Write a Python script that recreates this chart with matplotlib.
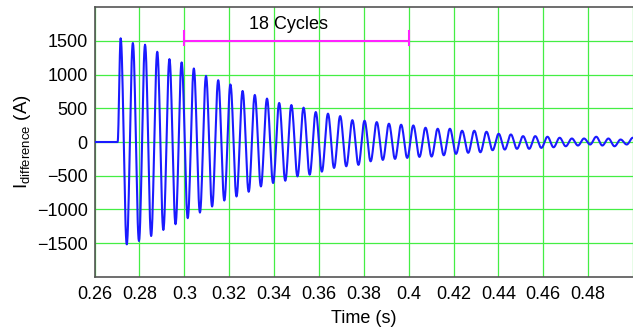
import numpy as np
import matplotlib
matplotlib.use("Agg")
import matplotlib.pyplot as plt

plt.rcParams['font.family'] = ['Liberation Sans', 'DejaVu Sans']
plt.rcParams['mathtext.fontset'] = 'custom'
plt.rcParams['mathtext.rm'] = 'Liberation Sans'

# ---- data ----
fault_time = 0.2703          # s, start of the oscillation
osc_freq = 184.0             # Hz, oscillation frequency
pos_peaks = [1540, 1470, 1445, 1340, 1231, 1182, 1092, 982, 918, 854, 758, 699, 645, 580,
             549, 510, 445, 421, 385, 325, 316, 296, 272, 257, 246, 212, 197, 197, 167, 167,
             152, 122, 112, 87, 87, 78, 63, 52, 52, 78, 52, 37, 63]
neg_peaks = [-1520, -1470, -1396, -1306, -1221, -1131, -1048, -958, -869, -809, -739, -660, -609, -575,
             -510, -485, -440, -385, -361, -340, -287, -266, -251, -236, -221, -216, -197, -176, -160,
             -152, -122, -112, -101, -101, -87, -78, -63, -52, -37, -52, -63, -37]
x_ticks = [0.26, 0.28, 0.3, 0.32, 0.34, 0.36, 0.38, 0.4, 0.42, 0.44, 0.46, 0.48]
x_tick_labels = ['0.26', '0.28', '0.3', '0.32', '0.34', '0.36', '0.38', '0.4', '0.42', '0.44', '0.46', '0.48']
y_ticks = [-1500, -1000, -500, 0, 500, 1000, 1500]
cycles_span = (0.3, 0.4)
cycles_level = 1500
cycles_text = '18 Cycles'

# ---- build waveform from extrema (half-cosine between successive extrema) ----
extrema = []
for i in range(len(pos_peaks)):
    extrema.append(pos_peaks[i])
    if i < len(neg_peaks):
        extrema.append(neg_peaks[i])
half = 0.5 / osc_freq
ext_t = [fault_time] + [fault_time + (k + 0.5) * half for k in range(len(extrema))]
ext_v = [0.0] + extrema
t_all = [0.26, fault_time]
v_all = [0.0, 0.0]
for i in range(len(ext_t) - 1):
    s = np.linspace(0, 1, 16)[1:]
    t_all.extend(ext_t[i] + s * (ext_t[i + 1] - ext_t[i]))
    v_all.extend(ext_v[i] + (ext_v[i + 1] - ext_v[i]) * (1 - np.cos(np.pi * s)) / 2)

fig = plt.figure(figsize=(6.33, 3.28), dpi=100)
ax = fig.add_axes([0.1493, 0.1564, 0.8507, 0.8213])
ax.plot(t_all, v_all, color='#1a1aff', lw=1.5, zorder=3)

ax.set_xlim(0.26, 0.5)
ax.set_ylim(-2000, 2000)
ax.set_xticks(x_ticks + [0.5])
ax.set_xticklabels(x_tick_labels + [''])
ax.set_yticks(y_ticks)
ax.grid(True, color='#44ee44', lw=0.9, zorder=0)
ax.tick_params(length=0, labelsize=13)
ax.tick_params(axis='x', pad=7)
ax.tick_params(axis='y', pad=5)
for sp in ax.spines.values():
    sp.set_color('#555555')
    sp.set_linewidth(1.2)
ax.spines['right'].set_visible(False)

# 18-cycle marker
ax.plot(cycles_span, [cycles_level, cycles_level], color='#ff22ff', lw=1.5, zorder=4)
for xx in cycles_span:
    ax.plot([xx, xx], [cycles_level - 60, cycles_level + 150], color='#ff22ff', lw=1.5, zorder=4)
ax.text(0.3465, 1745, cycles_text, ha='center', va='center', fontsize=13)

ax.set_xlabel('Time (s)', fontsize=13, labelpad=5)
ax.set_ylabel(r'I$_{\mathregular{difference}}$ (A)', fontsize=13.5, labelpad=2.5)

fig.savefig('out.png', dpi=100)
